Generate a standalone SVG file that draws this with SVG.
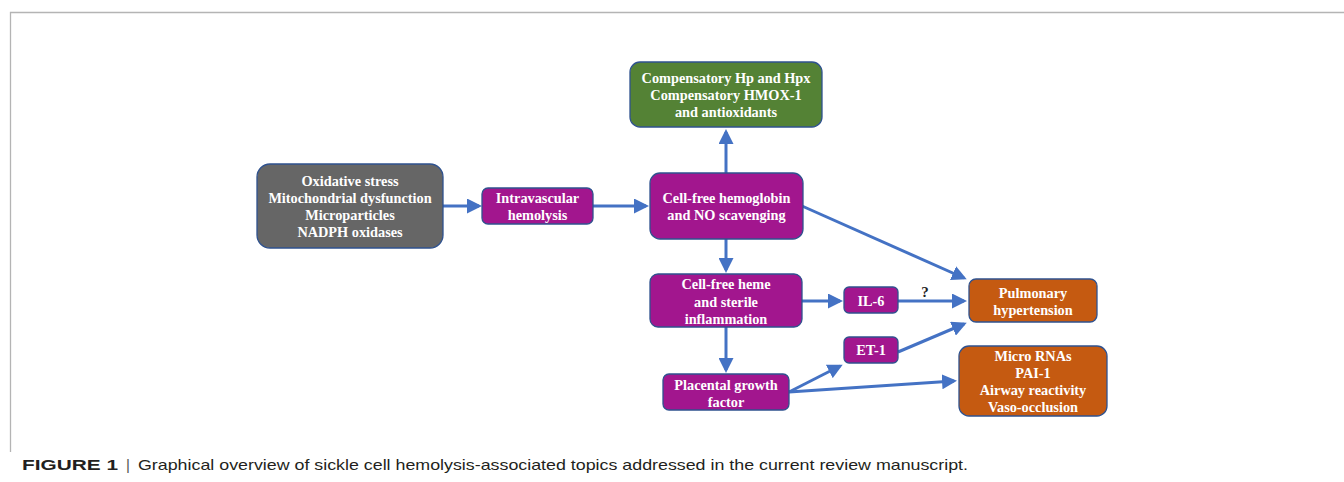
<svg xmlns="http://www.w3.org/2000/svg" width="1344" height="482" viewBox="0 0 1344 482">
<style>
.n{stroke:#2F528F;stroke-width:1.3}
.p{fill:#A2168E}
.g{fill:#666666}
.gr{fill:#548235}
.o{fill:#C55A11}
.t{font-family:"Liberation Serif","Times New Roman",serif;font-weight:bold;font-size:14.3px;fill:#ffffff;text-anchor:middle}
.c{stroke:#4472C4;stroke-width:3;fill:none;marker-end:url(#ah)}
.cap{font-family:"Liberation Sans",Arial,sans-serif;font-size:15px;fill:#231f20}
</style>
<defs>
<marker id="ah" markerWidth="5" markerHeight="5" refX="4" refY="2.5" orient="auto" markerUnits="strokeWidth">
<path d="M0,0 L5,2.5 L0,5 Z" fill="#4472C4"/>
</marker>
</defs>
<rect width="1344" height="482" fill="#ffffff"/>
<path d="M1344,12.5 H10.5 V452" fill="none" stroke="#b4b4b4" stroke-width="1.3"/>

<g id="connectors">
<path class="c" d="M443,206 H479"/>
<path class="c" d="M593,206 H646"/>
<path class="c" d="M726,173 V132"/>
<path class="c" d="M802,206 L964,278"/>
<path class="c" d="M726,239 V270"/>
<path class="c" d="M802,301 H840"/>
<path class="c" d="M726,327 V370"/>
<path class="c" d="M898,301 H964"/>
<path class="c" d="M898,352 L964,324"/>
<path class="c" d="M789,392 L840,366"/>
<path class="c" d="M789,392 L954,381"/>
<text x="925" y="297" style="font-family:'Liberation Serif',serif;font-weight:bold;font-size:15px;fill:#222;text-anchor:middle">?</text>
</g>

<g id="causes">
<rect class="n g" x="257" y="164" width="186" height="84" rx="13"/>
<text class="t" x="350" y="186">Oxidative stress</text>
<text class="t" x="350" y="203">Mitochondrial dysfunction</text>
<text class="t" x="350" y="220">Microparticles</text>
<text class="t" x="350" y="237">NADPH oxidases</text>
</g>
<g id="intravascular">
<rect class="n p" x="482" y="188" width="111" height="36" rx="6"/>
<text class="t" x="537.5" y="203">Intravascular</text>
<text class="t" x="537.5" y="220">hemolysis</text>
</g>
<g id="compensatory">
<rect class="n gr" x="630" y="62" width="192" height="65" rx="10"/>
<text class="t" x="726" y="83">Compensatory Hp and Hpx</text>
<text class="t" x="726" y="100">Compensatory HMOX-1</text>
<text class="t" x="726" y="117">and antioxidants</text>
</g>
<g id="hemoglobin">
<rect class="n p" x="650" y="173" width="153" height="66" rx="10"/>
<text class="t" x="726.5" y="203">Cell-free hemoglobin</text>
<text class="t" x="726.5" y="220">and NO scavenging</text>
</g>
<g id="heme">
<rect class="n p" x="650" y="274" width="152" height="53" rx="8"/>
<text class="t" x="726" y="289">Cell-free heme</text>
<text class="t" x="726" y="306.5">and sterile</text>
<text class="t" x="726" y="324">inflammation</text>
</g>
<g id="placental">
<rect class="n p" x="663" y="374" width="126" height="36" rx="6"/>
<text class="t" x="726" y="390">Placental growth</text>
<text class="t" x="726" y="407">factor</text>
</g>
<g id="il6">
<rect class="n p" x="844" y="287" width="54" height="26" rx="5"/>
<text class="t" x="871" y="306">IL-6</text>
</g>
<g id="et1">
<rect class="n p" x="844" y="337" width="54" height="26" rx="5"/>
<text class="t" x="871" y="355">ET-1</text>
</g>
<g id="pulmonary">
<rect class="n o" x="969" y="279" width="128" height="43" rx="7"/>
<text class="t" x="1033" y="298">Pulmonary</text>
<text class="t" x="1033" y="315">hypertension</text>
</g>
<g id="micro">
<rect class="n o" x="959" y="346" width="148" height="70" rx="10"/>
<text class="t" x="1033" y="361">Micro RNAs</text>
<text class="t" x="1033" y="378">PAI-1</text>
<text class="t" x="1033" y="395">Airway reactivity</text>
<text class="t" x="1033" y="412">Vaso-occlusion</text>
</g>

<text class="cap" x="22" y="470"><tspan font-weight="bold" textLength="96" lengthAdjust="spacingAndGlyphs">FIGURE 1</tspan><tspan x="126" fill="#555">|</tspan><tspan x="138" textLength="830" lengthAdjust="spacingAndGlyphs">Graphical overview of sickle cell hemolysis-associated topics addressed in the current review manuscript.</tspan></text>
</svg>
